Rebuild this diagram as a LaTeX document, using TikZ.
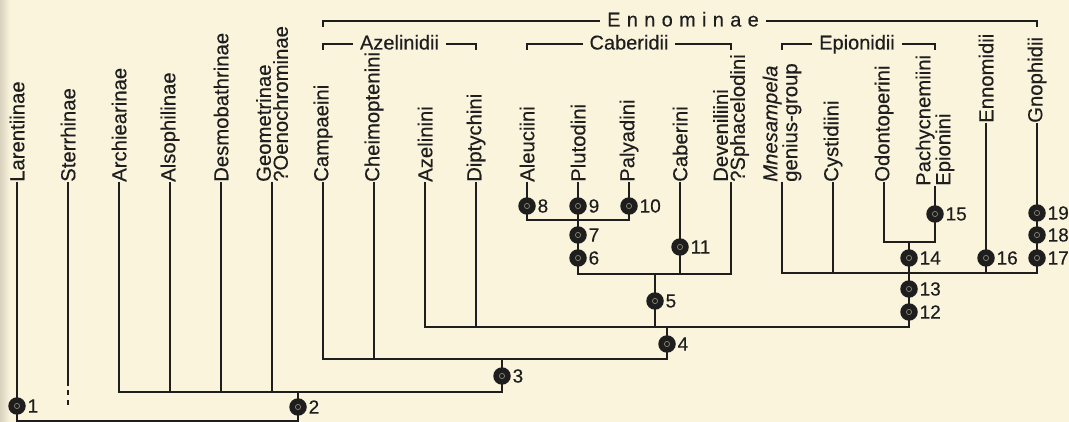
\documentclass[tikz,border=0pt]{standalone}
\usepackage{fontspec}
\setmainfont{Liberation Sans}[FakeBold=0.35]
\definecolor{bg}{HTML}{FBF4DD}
\definecolor{ink}{HTML}{1E1E1E}
\definecolor{ring}{HTML}{8A8470}
\newcommand\ls{\hspace{6.3pt}}
\begin{document}
\begin{tikzpicture}[x=1pt,y=-1pt,
  tip/.style={rotate=90, anchor=west, align=left, inner sep=0pt, text=ink,
              font=\fontsize{20.3}{17}\selectfont},
  branch/.style={draw=ink, line width=1.25pt},
  dot/.style={circle, fill=ink, minimum size=17.5pt, inner sep=0pt,
              path picture={\draw[ring, line width=0.7pt] (path picture bounding box.center) circle (2.6pt);}},
  num/.style={inner sep=0pt, text=ink, font=\fontsize{19}{19}\selectfont},
  head/.style={fill=bg, anchor=base, inner xsep=7pt, inner ysep=1pt, text=ink,
               font=\fontsize{20}{20}\selectfont}]
\fill[bg] (0,0) rectangle (1069,422);
\useasboundingbox (0,0) rectangle (1069,422);
\shade[left color=bg!86!black, right color=bg] (0,0) rectangle (10,422);

% tip labels
\node[tip] (t0)  at (17,182)   {Larentiinae};
\node[tip] (t1)  at (68,182)   {Sterrhinae};
\node[tip] (t2)  at (119,182)  {Archiearinae};
\node[tip] (t3)  at (170,182)  {Alsophilinae};
\node[tip] (t4)  at (221,182)  {Desmobathrinae};
\node[tip] (t5)  at (272,182)  {Geometrinae\\?Oenochrominae};
\node[tip] (t6)  at (323,182)  {Campaeini};
\node[tip] (t7)  at (374,182)  {Cheimoptenini};
\node[tip] (t8)  at (425,182)  {Azelinini};
\node[tip] (t9)  at (476,182)  {Diptychini};
\node[tip] (t10) at (527,182)  {Aleuciini};
\node[tip] (t11) at (578,182)  {Plutodini};
\node[tip] (t12) at (629,182)  {Palyadini};
\node[tip] (t13) at (680,182)  {Caberini};
\node[tip] (t14) at (731,182)  {Deveniliini\\?Sphacelodini};
\node[tip] (t15) at (782,182)  {\textit{Mnesampela}\\genius-group};
\node[tip] (t16) at (833,182)  {Cystidiini};
\node[tip] (t17) at (884,182)  {Odontoperini};
\node[tip] (t18) at (935,186)  {Pachycnemiini\\Epionini};
\node[tip] (t19) at (986,123)  {Ennomidii};
\node[tip] (t20) at (1037,123) {Gnophidii};

% junction coordinates
\coordinate (r0) at (17,421);   \coordinate (r1) at (298,421);
\coordinate (a0) at (119,392);  \coordinate (a1) at (298,392);  \coordinate (a2) at (502,392);
\coordinate (b0) at (323,359);  \coordinate (b1) at (502,359);  \coordinate (b2) at (667,359);
\coordinate (c0) at (425,327);  \coordinate (c1) at (667,327);  \coordinate (c2) at (655,327);  \coordinate (c3) at (909,327);
\coordinate (d0) at (578,274);  \coordinate (d1) at (655,274);  \coordinate (d2) at (731,274);
\coordinate (e0) at (527,220);  \coordinate (e1) at (629,220);
\coordinate (f0) at (782,273);  \coordinate (f1) at (909,273);  \coordinate (f2) at (1037,273);
\coordinate (g0) at (884,242);  \coordinate (g1) at (909,242);  \coordinate (g2) at (935,242);
\coordinate (s0) at (68,386);   \coordinate (s1) at (68,390);   \coordinate (s2) at (68,405);

% tree
\draw[branch] (t0.west) -- (r0) -- (r1) -- (a1);
\draw[branch] (t1.west) -- (s0);
\draw[branch, dash pattern=on 5pt off 5pt] (s1) -- (s2);
\draw[branch] (t2.west) -- (a0) -- (a2) -- (b1);
\draw[branch] (t3.west) -- (t3.west |- a0);
\draw[branch] (t4.west) -- (t4.west |- a0);
\draw[branch] (t5.west) -- (t5.west |- a0);
\draw[branch] (t6.west) -- (b0) -- (b2) -- (c1);
\draw[branch] (t7.west) -- (t7.west |- b0);
\draw[branch] (t8.west) -- (c0) -- (c3) -- (f1);
\draw[branch] (t9.west) -- (t9.west |- c0);
\draw[branch] (c2) -- (d1);
\draw[branch] (t11.west) -- (d0) -- (d2) -- (t14.west);
\draw[branch] (t13.west) -- (t13.west |- d0);
\draw[branch] (t10.west) -- (e0) -- (e1) -- (t12.west);
\draw[branch] (t15.west) -- (f0) -- (f2) -- (t20.west);
\draw[branch] (t16.west) -- (t16.west |- f0);
\draw[branch] (t19.west) -- (t19.west |- f0);
\draw[branch] (t17.west) -- (g0) -- (g2) -- (t18.west);
\draw[branch] (g1) -- (f1);

% character-state dots
\foreach \n/\x/\y in {1/17/406, 2/298/407, 3/502/376, 4/667/344, 5/655/301,
  6/578/258, 7/578/235, 8/527/206, 9/578/206, 10/629/206, 11/680/247,
  12/909/312, 13/909/289, 14/909/258, 15/935/214, 16/986/258,
  17/1037/258, 18/1037/235, 19/1037/213}{
  \node[dot, label={[num, label distance=1.5pt]right:\n}] (n\n) at (\x,\y) {};
}

% group brackets
\coordinate (en0) at (323,27);  \coordinate (en1) at (323,21);
\coordinate (en2) at (1037,21); \coordinate (en3) at (1037,27);
\draw[branch] (en0) -- (en1) -- (en2) -- (en3);
\node[head] (enn) at (683,26.5) {E\ls n\ls n\ls o\ls m\ls i\ls n\ls a\ls e};

\coordinate (az0) at (323,50); \coordinate (az1) at (323,44);
\coordinate (az2) at (476,44); \coordinate (az3) at (476,50);
\draw[branch] (az0) -- (az1) -- (az2) -- (az3);
\node[head] (aze) at (399.5,49.5) {Azelinidii};

\coordinate (cb0) at (527,50); \coordinate (cb1) at (527,44);
\coordinate (cb2) at (731,44); \coordinate (cb3) at (731,50);
\draw[branch] (cb0) -- (cb1) -- (cb2) -- (cb3);
\node[head] (cab) at (629,49.5) {Caberidii};

\coordinate (ep0) at (782,50); \coordinate (ep1) at (782,44);
\coordinate (ep2) at (935,44); \coordinate (ep3) at (935,50);
\draw[branch] (ep0) -- (ep1) -- (ep2) -- (ep3);
\node[head] (epi) at (857,49.5) {Epionidii};
\end{tikzpicture}
\end{document}
